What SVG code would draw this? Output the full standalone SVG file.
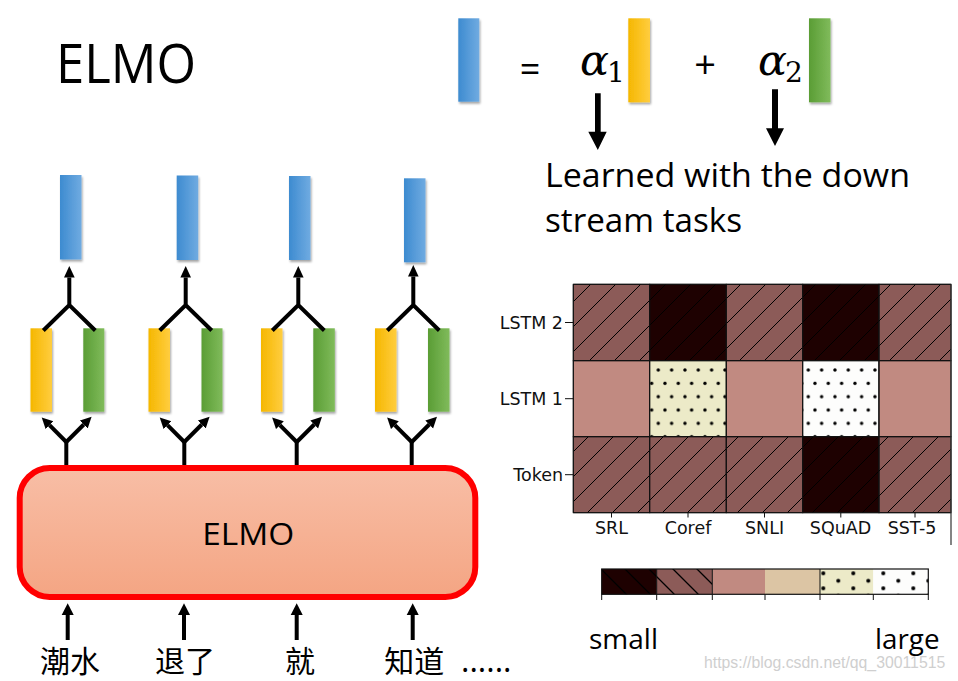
<svg xmlns="http://www.w3.org/2000/svg" width="958" height="681" viewBox="0 0 958 681">
<style>
.cal{font-family:"Open Sans","Noto Sans",sans-serif;fill:#000}
.dj{font-family:"DejaVu Sans",sans-serif;font-size:17.5px;fill:#111}
.cjk{font-family:"Noto Sans CJK SC","Noto Sans CJK TC",sans-serif;font-size:30px;fill:#000}
.ln{stroke:#000;stroke-width:4;fill:none}
.cell{stroke:#111;stroke-width:1}
.tick{stroke:#111;stroke-width:1}
.math{font-family:"DejaVu Serif",serif;font-style:italic;font-size:43px;fill:#000}
.sub{font-style:normal;font-size:28px}
</style>
<defs>
<linearGradient id="gB" x1="0" x2="1" y1="0" y2="0"><stop offset="0" stop-color="#3d8bd0"/><stop offset="1" stop-color="#70abe1"/></linearGradient>
<linearGradient id="gY" x1="0" x2="1" y1="0" y2="0"><stop offset="0" stop-color="#f5b700"/><stop offset="1" stop-color="#ffcd3f"/></linearGradient>
<linearGradient id="gG" x1="0" x2="1" y1="0" y2="0"><stop offset="0" stop-color="#5a9d35"/><stop offset="1" stop-color="#80bb5b"/></linearGradient>
<linearGradient id="gBox" x1="0" x2="0" y1="0" y2="1"><stop offset="0" stop-color="#f8bea6"/><stop offset="1" stop-color="#f4a583"/></linearGradient>
<filter id="sh" x="-30%" y="-10%" width="160%" height="130%"><feDropShadow dx="1" dy="2" stdDeviation="1" flood-color="#000" flood-opacity="0.35"/></filter>
<pattern id="hatchF" patternUnits="userSpaceOnUse" width="25" height="25"><path d="M-5,5 L5,-5 M0,25 L25,0 M20,30 L30,20" stroke="#000" stroke-width="1"/></pattern>
<pattern id="hatchB" patternUnits="userSpaceOnUse" x="601" y="569" width="24" height="24"><path d="M-6,-6 L30,30 M-6,18 L6,30 M18,-6 L30,6" stroke="#000" stroke-width="1.3"/></pattern>
<pattern id="dotsA" patternUnits="userSpaceOnUse" x="658.3" y="370" width="13.33" height="26.67"><g fill="#000"><circle cx="0" cy="0" r="1.7"/><circle cx="13.33" cy="0" r="1.7"/><circle cx="0" cy="26.67" r="1.7"/><circle cx="13.33" cy="26.67" r="1.7"/><circle cx="6.67" cy="13.33" r="1.7"/></g></pattern>
<pattern id="dotsB" patternUnits="userSpaceOnUse" x="808.3" y="370" width="13.33" height="26.67"><g fill="#000"><circle cx="0" cy="0" r="1.7"/><circle cx="13.33" cy="0" r="1.7"/><circle cx="0" cy="26.67" r="1.7"/><circle cx="13.33" cy="26.67" r="1.7"/><circle cx="6.67" cy="13.33" r="1.7"/></g></pattern>
<pattern id="dotsC" patternUnits="userSpaceOnUse" x="853.3" y="573.3" width="30" height="15"><g fill="#000"><circle cx="0" cy="0" r="2"/><circle cx="30" cy="0" r="2"/><circle cx="0" cy="15" r="2"/><circle cx="30" cy="15" r="2"/><circle cx="15" cy="7.5" r="2"/></g></pattern>
<marker id="ah" markerUnits="userSpaceOnUse" markerWidth="12" markerHeight="12" refX="0" refY="5.5" orient="auto"><path d="M0,0 L11,5.5 L0,11 z" fill="#000"/></marker>
</defs>

<rect width="958" height="681" fill="#fff"/>

<g id="title"><text class="cal" x="56" y="83.3" font-size="54" textLength="140" lengthAdjust="spacingAndGlyphs">ELMO</text></g>

<g id="formula">
<rect x="458.3" y="18.3" width="21" height="83.4" fill="url(#gB)" filter="url(#sh)"/>
<text class="cal" x="530" y="82" font-size="36" text-anchor="middle">=</text>
<text class="math" x="580" y="75">α<tspan class="sub" dx="-2" dy="6.7">1</tspan></text>
<rect x="628.3" y="18.3" width="21.7" height="84" fill="url(#gY)" filter="url(#sh)"/>
<text class="cal" x="705" y="78" font-size="38" text-anchor="middle">+</text>
<text class="math" x="758" y="75">α<tspan class="sub" dx="-2" dy="6.7">2</tspan></text>
<rect x="809" y="18.3" width="21.5" height="84" fill="url(#gG)" filter="url(#sh)"/>
</g>

<g id="learned-text">
<text class="cal" x="545" y="186.7" font-size="33" textLength="365" lengthAdjust="spacingAndGlyphs">Learned with the down</text>
<text class="cal" x="545" y="231.7" font-size="33" textLength="197" lengthAdjust="spacingAndGlyphs">stream tasks</text>
</g>

<g id="col1">
<rect x="60" y="175" width="21.5" height="84.5" fill="url(#gB)" filter="url(#sh)"/>
<rect x="30.5" y="328.3" width="21.5" height="83.4" fill="url(#gY)" filter="url(#sh)"/>
<rect x="83.3" y="328.3" width="21" height="83.4" fill="url(#gG)" filter="url(#sh)"/>
</g>
<g id="col2">
<rect x="176.7" y="175.5" width="21.5" height="84.5" fill="url(#gB)" filter="url(#sh)"/>
<rect x="148.5" y="328.3" width="21.5" height="83.4" fill="url(#gY)" filter="url(#sh)"/>
<rect x="201.5" y="328.3" width="21" height="83.4" fill="url(#gG)" filter="url(#sh)"/>
</g>
<g id="col3">
<rect x="289" y="176" width="21.5" height="84" fill="url(#gB)" filter="url(#sh)"/>
<rect x="261" y="328.3" width="21.5" height="83.4" fill="url(#gY)" filter="url(#sh)"/>
<rect x="313.3" y="328.3" width="21.5" height="83.4" fill="url(#gG)" filter="url(#sh)"/>
</g>
<g id="col4">
<rect x="404" y="178.3" width="21.5" height="84" fill="url(#gB)" filter="url(#sh)"/>
<rect x="375" y="328.3" width="21.5" height="83.4" fill="url(#gY)" filter="url(#sh)"/>
<rect x="428" y="328.3" width="21.5" height="83.4" fill="url(#gG)" filter="url(#sh)"/>
</g>

<g id="elmo-box">
<rect x="19.7" y="468" width="455.6" height="129" rx="30" ry="30" fill="url(#gBox)" stroke="#ff0000" stroke-width="6"/>
<text class="cal" x="248.3" y="545" font-size="31" text-anchor="middle" textLength="92" lengthAdjust="spacingAndGlyphs">ELMO</text>
</g>

<g id="inputs">
<text class="cjk" x="70" y="671.5" text-anchor="middle">潮水</text>
<text class="cjk" x="185" y="671.5" text-anchor="middle">退了</text>
<text class="cjk" x="300" y="671.5" text-anchor="middle">就</text>
<text class="cjk" x="414.2" y="671.5" text-anchor="middle">知道</text>
<text class="cal" x="461" y="672" font-size="32">......</text>
</g>

<g id="connectors">
<polygon points="595,93.3 600.7,93.3 600.7,131.7 606.7,131.7 597.8,150 588.3,131.7 595,131.7" fill="#000"/>
<polygon points="772,89.3 778,89.3 778,128.3 784,128.3 775,146 766,128.3 772,128.3" fill="#000"/>
<path class="ln" d="M43.3,330.5 L69.3,305 L95.3,330.5 M69.3,305 L69.3,277.5"/>
<polygon points="64,277.5 74.7,277.5 69.3,266" fill="#000"/>
<path class="ln" d="M66.3,465 L66.3,442"/>
<path class="ln" d="M66.3,442 L49.5,425.2" marker-end="url(#ah)"/>
<path class="ln" d="M66.3,442 L83.8,424.5" marker-end="url(#ah)"/>
<path class="ln" d="M159.7,330.5 L185.7,305 L211.7,330.5 M185.7,305 L185.7,277.5"/>
<polygon points="180.4,277.5 191,277.5 185.7,266" fill="#000"/>
<path class="ln" d="M184.3,465 L184.3,442"/>
<path class="ln" d="M184.3,442 L167.5,425.2" marker-end="url(#ah)"/>
<path class="ln" d="M184.3,442 L201.8,424.5" marker-end="url(#ah)"/>
<path class="ln" d="M272.3,330.5 L298.3,305 L324.3,330.5 M298.3,305 L298.3,277.5"/>
<polygon points="293,277.5 303.6,277.5 298.3,266" fill="#000"/>
<path class="ln" d="M296.7,465 L296.7,442"/>
<path class="ln" d="M296.7,442 L279.9,425.2" marker-end="url(#ah)"/>
<path class="ln" d="M296.7,442 L314.2,424.5" marker-end="url(#ah)"/>
<path class="ln" d="M387.3,330.5 L413.3,305 L439.3,330.5 M413.3,305 L413.3,276.5"/>
<polygon points="408,276.5 418.6,276.5 413.3,265" fill="#000"/>
<path class="ln" d="M411.7,465 L411.7,442"/>
<path class="ln" d="M411.7,442 L394.9,425.2" marker-end="url(#ah)"/>
<path class="ln" d="M411.7,442 L429.2,424.5" marker-end="url(#ah)"/>
<path class="ln" d="M67.7,640 L67.7,614 M184,640 L184,614 M296.7,640 L296.7,614 M412.7,640 L412.7,614"/>
<polygon points="61.7,615 73.7,615 67.7,603.3" fill="#000"/>
<polygon points="178,615 190,615 184,603.3" fill="#000"/>
<polygon points="290.7,615 302.7,615 296.7,603.3" fill="#000"/>
<polygon points="406.7,615 418.7,615 412.7,603.3" fill="#000"/>
</g>

<g id="heatmap">
<rect class="cell" x="573.3" y="284.3" width="76.4" height="76.4" fill="#8c5b58"/>
<rect class="cell" x="649.7" y="284.3" width="76.6" height="76.4" fill="#1e0101"/>
<rect class="cell" x="726.3" y="284.3" width="76.4" height="76.4" fill="#8c5b58"/>
<rect class="cell" x="802.7" y="284.3" width="76.3" height="76.4" fill="#1e0101"/>
<rect class="cell" x="879" y="284.3" width="72" height="76.4" fill="#8c5b58"/>
<rect x="573.3" y="284.3" width="377.7" height="76.4" fill="url(#hatchF)"/>
<rect class="cell" x="573.3" y="360.7" width="76.4" height="76" fill="#c18a81"/>
<rect class="cell" x="649.7" y="360.7" width="76.6" height="76" fill="#eceac8"/>
<rect x="649.7" y="360.7" width="76.6" height="76" fill="url(#dotsA)"/>
<rect class="cell" x="726.3" y="360.7" width="76.4" height="76" fill="#c18a81"/>
<rect class="cell" x="802.7" y="360.7" width="76.3" height="76" fill="#fdfdfc"/>
<rect x="802.7" y="360.7" width="76.3" height="76" fill="url(#dotsB)"/>
<rect class="cell" x="879" y="360.7" width="72" height="76" fill="#c18a81"/>
<rect class="cell" x="573.3" y="436.7" width="76.4" height="76" fill="#8c5b58"/>
<rect class="cell" x="649.7" y="436.7" width="76.6" height="76" fill="#8c5b58"/>
<rect class="cell" x="726.3" y="436.7" width="76.4" height="76" fill="#8c5b58"/>
<rect class="cell" x="802.7" y="436.7" width="76.3" height="76" fill="#1e0101"/>
<rect class="cell" x="879" y="436.7" width="72" height="76" fill="#8c5b58"/>
<rect x="573.3" y="436.7" width="377.7" height="76" fill="url(#hatchF)"/>
<path d="M573.3,284.3 H951 M573.3,360.7 H951 M573.3,436.7 H951 M573.3,512.7 H951 M573.3,284.3 V512.7 M649.7,284.3 V512.7 M726.3,284.3 V512.7 M802.7,284.3 V512.7 M879,284.3 V512.7" stroke="#111" stroke-width="1" fill="none"/>
<line x1="951" y1="284.3" x2="951" y2="545" stroke="#333" stroke-width="1.2"/>
<path class="tick" d="M565,322.5 H573.3 M565,398.7 H573.3 M565,474.7 H573.3 M611.5,512.7 V517.5 M688,512.7 V517.5 M764.5,512.7 V517.5 M840.8,512.7 V517.5 M915,512.7 V517.5"/>
<text class="dj" x="563" y="329" text-anchor="end">LSTM 2</text>
<text class="dj" x="563" y="405.2" text-anchor="end">LSTM 1</text>
<text class="dj" x="563" y="481.2" text-anchor="end">Token</text>
<text class="dj" x="611.5" y="534" text-anchor="middle">SRL</text>
<text class="dj" x="688" y="534" text-anchor="middle">Coref</text>
<text class="dj" x="764.5" y="534" text-anchor="middle">SNLI</text>
<text class="dj" x="840.5" y="534" text-anchor="middle">SQuAD</text>
<text class="dj" x="912" y="534" text-anchor="middle">SST-5</text>
</g>

<g id="colorbar">
<rect x="601.7" y="569" width="55" height="25.3" fill="#1e0101"/>
<rect x="656.7" y="569" width="55.6" height="25.3" fill="#8c5b58"/>
<rect x="601.7" y="569" width="110.6" height="25.3" fill="url(#hatchB)"/>
<rect x="712.3" y="569" width="52.7" height="25.3" fill="#c18a81"/>
<rect x="765" y="569" width="55" height="25.3" fill="#dcc5a4"/>
<rect x="820" y="569" width="53.3" height="25.3" fill="#eceac8"/>
<rect x="873.3" y="569" width="55" height="25.3" fill="#fdfdfc"/>
<rect x="820" y="569" width="108.3" height="25.3" fill="url(#dotsC)"/>
<path d="M656.7,569 V594.3 M712.3,569 V594.3 M820,569 V594.3" stroke="#111" stroke-width="1"/>
<rect x="601.7" y="569" width="326.6" height="25.3" fill="none" stroke="#111" stroke-width="1.2"/>
<path class="tick" d="M601.7,594.3 V600 M656.7,594.3 V600 M712.3,594.3 V600 M765,594.3 V600 M820,594.3 V600 M873.3,594.3 V600 M928.3,594.3 V600"/>
<text class="cal" x="589" y="649" font-size="28" textLength="69" lengthAdjust="spacingAndGlyphs">small</text>
<text class="cal" x="875" y="649" font-size="28" textLength="64.5" lengthAdjust="spacingAndGlyphs">large</text>
</g>

<g id="watermark"><text x="704" y="668" font-family="Liberation Sans,Arial,sans-serif" font-size="15.8" fill="#cfcfcf">https://blog.csdn.net/qq_30011515</text></g>
</svg>
